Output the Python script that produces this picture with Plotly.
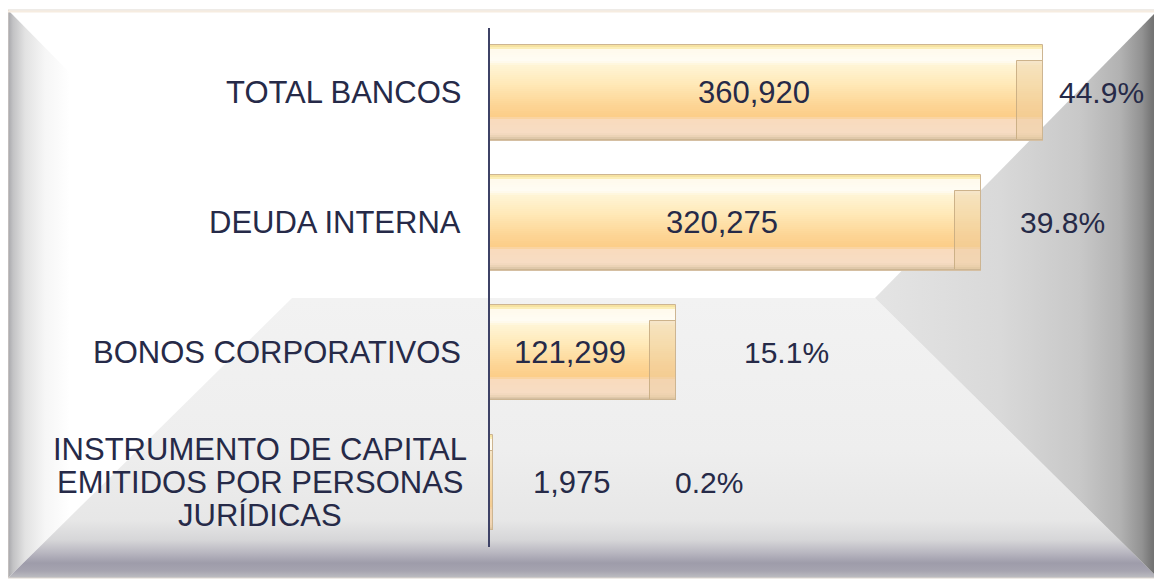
import plotly.graph_objects as go

# ---------------- data ----------------
CATEGORIES = [
    "TOTAL BANCOS",
    "DEUDA INTERNA",
    "BONOS CORPORATIVOS",
    "INSTRUMENTO DE CAPITAL<br>EMITIDOS POR PERSONAS<br>JURÍDICAS",
]
VALUES = [360920, 320275, 121299, 1975]
PERCENTS = [44.9, 39.8, 15.1, 0.2]

# ---------------- layout constants (page pixels) ----------------
W, H = 1162, 583
OFF = 8                  # default body margin of the html page
FIG_W, FIG_H = W - OFF, H - OFF
AXIS_X = 490             # x pixel of the value axis (0)
BAR_END_MAX_X = 1043     # x pixel where the largest bar ends
PLOT_TOP, PLOT_BOTTOM = 28, 547
BAR_THICK_PX = 95
BEVEL_PX = 26
LABEL_RIGHT_PX = 463
MULTILINE_CENTER_PX = 260
LINE_GAP_PX = 33
PCT_GAP_PX = [14, 37, 66, 180]
OUTSIDE_VALUE_GAP_PX = 38
TEXT_COLOR = "#262a48"
FONT = "Liberation Sans, Arial, sans-serif"

# frame geometry (background bevel panel)
FX0, FY0, FX1, FY1 = 8, 10, 1158, 578
LX, RX, AY = 292, 875, 298


def px_x(x):
    return (x - OFF) / FIG_W


def px_y(y):
    return 1 - (y - OFF) / FIG_H


def grad(stops, lo, hi):
    return [[(p - lo) / (hi - lo), c] for p, c in stops]


def hex2rgb(h):
    h = h.lstrip("#")
    return tuple(int(h[i:i + 2], 16) for i in (0, 2, 4))


def interp(stops, t):
    for (p0, c0), (p1, c1) in zip(stops[:-1], stops[1:]):
        if p0 <= t <= p1:
            f = 0 if p1 == p0 else (t - p0) / (p1 - p0)
            a, b = hex2rgb(c0), hex2rgb(c1)
            return "rgb(%d,%d,%d)" % tuple(round(a[i] + (b[i] - a[i]) * f) for i in range(3))
    return stops[-1][1]


fig = go.Figure()

# ---- background panel (on full-page axes x/y in page pixel units) ----
fig.add_trace(go.Scatter(
    x=[FX0, FX1, RX, LX, FX0], y=[FY0, FY0, AY, AY, FY0],
    fill="toself", mode="none", fillcolor="#ffffff",
    hoverinfo="skip", showlegend=False, xaxis="x", yaxis="y"))
fig.add_trace(go.Scatter(
    x=[FX0, LX, FX0, FX0], y=[FY0, AY, FY1, FY0],
    fill="toself", mode="none",
    fillgradient=dict(type="horizontal", start=FX0, stop=LX,
                      colorscale=grad([(8, "#a6a6aa"), (13, "#c2c2c4"), (25, "#e2e2e2"),
                                       (45, "#f6f6f6"), (70, "#ffffff"), (292, "#ffffff")], FX0, LX)),
    hoverinfo="skip", showlegend=False, xaxis="x", yaxis="y"))
fig.add_trace(go.Scatter(
    x=[FX0, LX, RX, FX1, FX0], y=[FY1, AY, AY, FY1, FY1],
    fill="toself", mode="none",
    fillgradient=dict(type="vertical", start=AY, stop=FY1,
                      colorscale=grad([(298, "#f2f2f2"), (450, "#eeeeee"), (520, "#e7e7e7"),
                                       (540, "#d6d6d8"), (553, "#b8b6c0"), (563, "#9e9caa"),
                                       (571, "#a6a4b0"), (578, "#bebec2")], AY, FY1)),
    hoverinfo="skip", showlegend=False, xaxis="x", yaxis="y"))
fig.add_trace(go.Scatter(
    x=[FX1, FX1, RX, FX1], y=[FY0, FY1, AY, FY0],
    fill="toself", mode="none",
    fillgradient=dict(type="horizontal", start=RX, stop=FX1,
                      colorscale=grad([(875, "#e4e4e4"), (1000, "#d9d9d9"), (1080, "#c8c8c8"),
                                       (1120, "#b2b2b2"), (1142, "#929292"), (1151, "#787878"),
                                       (1158, "#6a6a6a")], RX, FX1)),
    hoverinfo="skip", showlegend=False, xaxis="x", yaxis="y"))

# ---- bars (on axes x2/y2) ----
px_per_unit = (BAR_END_MAX_X - AXIS_X) / max(VALUES)
cat_px = (PLOT_BOTTOM - PLOT_TOP) / len(CATEGORIES)


def u(px):
    return px / cat_px


bar_w = u(BAR_THICK_PX)
top_off = -bar_w / 2
bevel_units = BEVEL_PX / px_per_unit

BAR_STOPS = [
    (0, "#f3dc96"), (3, "#fbeeb8"), (4, "#fffaec"), (16, "#fffcf4"),
    (20, "#fff5d6"), (40, "#ffe8b6"), (60, "#fdd595"), (72, "#fccd88"),
    (74, "#f9dbbc"), (88, "#f7dcc4"), (91, "#ecd3b6"), (95, "#d2bc9f"),
]
STEP = 2
s = 0
while s < BAR_THICK_PX:
    e = min(BAR_THICK_PX, s + STEP)
    fig.add_trace(go.Bar(
        x=VALUES, y=CATEGORIES, orientation="h",
        width=u(e - s) * 1.02, offset=top_off + u(s),
        marker=dict(color=interp(BAR_STOPS, (s + e) / 2), line=dict(width=0)),
        hoverinfo="skip", showlegend=False, xaxis="x2", yaxis="y2"))
    s = e

# right bevel of each bar (translucent so the bar shading shows through)
BEVEL_TOP = 16
bev_base = [max(0, v - bevel_units) for v in VALUES]
fig.add_trace(go.Bar(
    x=[v - b for v, b in zip(VALUES, bev_base)], base=bev_base, y=CATEGORIES,
    orientation="h", width=u(BAR_THICK_PX - BEVEL_TOP), offset=top_off + u(BEVEL_TOP),
    marker=dict(color="rgba(236,204,160,0.45)", line=dict(color="rgba(200,172,130,0.9)", width=1)),
    hoverinfo="skip", showlegend=False, xaxis="x2", yaxis="y2"))

# outline of the whole bar (carries the hover)
fig.add_trace(go.Bar(
    x=VALUES, y=CATEGORIES, orientation="h", width=bar_w, offset=top_off,
    marker=dict(color="rgba(0,0,0,0)", line=dict(color="#cdb592", width=1)),
    hovertemplate="%{y}: %{x:,}<extra></extra>",
    showlegend=False, xaxis="x2", yaxis="y2"))

# ---- annotations ----
annotations = []
for cat, v, p, gap in zip(CATEGORIES, VALUES, PERCENTS, PCT_GAP_PX):
    lines = cat.split("<br>")
    if len(lines) == 1:
        annotations.append(dict(
            x=px_x(LABEL_RIGHT_PX), xref="paper", y=cat, yref="y2",
            text=cat, showarrow=False, xanchor="right", yanchor="middle",
            font=dict(family=FONT, size=31, color=TEXT_COLOR)))
    else:
        mid = (len(lines) - 1) / 2
        for i, ln in enumerate(lines):
            annotations.append(dict(
                x=px_x(MULTILINE_CENTER_PX), xref="paper", y=cat, yref="y2",
                yshift=(mid - i) * LINE_GAP_PX,
                text=ln, showarrow=False, xanchor="center", yanchor="middle",
                font=dict(family=FONT, size=31, color=TEXT_COLOR)))
    if v * px_per_unit > 150:
        annotations.append(dict(
            x=(v - bevel_units) / 2, xref="x2", y=cat, yref="y2",
            text=f"{v:,}", showarrow=False, xanchor="center", yanchor="middle",
            font=dict(family=FONT, size=31, color=TEXT_COLOR)))
    else:
        annotations.append(dict(
            x=v, xref="x2", y=cat, yref="y2", xshift=OUTSIDE_VALUE_GAP_PX,
            text=f"{v:,}", showarrow=False, xanchor="left", yanchor="middle",
            font=dict(family=FONT, size=31, color=TEXT_COLOR)))
    annotations.append(dict(
        x=v, xref="x2", y=cat, yref="y2", xshift=gap,
        text=f"{p:.1f}%", showarrow=False, xanchor="left", yanchor="middle",
        font=dict(family=FONT, size=30, color=TEXT_COLOR)))

fig.update_layout(
    width=FIG_W, height=FIG_H, autosize=False,
    margin=dict(l=0, r=0, t=0, b=0, pad=0),
    paper_bgcolor="#ffffff", plot_bgcolor="rgba(0,0,0,0)",
    barmode="overlay", bargap=0,
    showlegend=False,
    xaxis=dict(domain=[0, 1], range=[OFF, W], visible=False, fixedrange=True),
    yaxis=dict(domain=[0, 1], range=[H, OFF], visible=False, fixedrange=True),
    xaxis2=dict(domain=[px_x(AXIS_X), px_x(BAR_END_MAX_X)], range=[0, max(VALUES)],
                anchor="y2", showgrid=False, zeroline=False, showticklabels=False,
                showline=False, fixedrange=True),
    yaxis2=dict(domain=[px_y(PLOT_BOTTOM), px_y(PLOT_TOP)], anchor="x2",
                type="category", categoryarray=CATEGORIES, categoryorder="array",
                autorange="reversed", showgrid=False, zeroline=False,
                showticklabels=False, ticks="",
                showline=True, linecolor="#3e4266", linewidth=2, fixedrange=True),
    annotations=annotations,
    shapes=[
        dict(type="rect", xref="x", yref="y", x0=FX0, x1=FX1, y0=FY0, y1=FY1,
             line=dict(color="#ddd6cf", width=1), fillcolor="rgba(0,0,0,0)"),
        dict(type="line", xref="x", yref="y", x0=FX0, x1=FX1, y0=FY0 + 1.5, y1=FY0 + 1.5,
             line=dict(color="#f6ece0", width=2)),
    ],
)

fig.write_html("out.html", config={"displayModeBar": False})
